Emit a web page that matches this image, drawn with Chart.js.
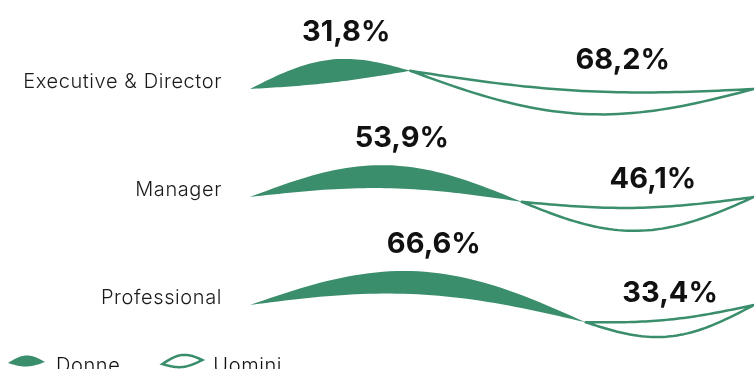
<!DOCTYPE html>
<html lang="it">
<head>
<meta charset="utf-8">
<title>Donne e uomini per ruolo</title>
<script src="https://cdn.jsdelivr.net/npm/chart.js@4.4.1/dist/chart.umd.min.js"></script>
<style>
	html, body { margin: 0; padding: 0; background: #fff; overflow: hidden; }
	.chart-wrap { width: 754px; height: 369px; position: relative; }
</style>
</head>
<body>
<div class="chart-wrap"><canvas class="js-ruoli"></canvas></div>
<script>
const ruoli = ['Executive & Director', 'Manager', 'Professional'];
const donne = [31.8, 53.9, 66.6];
const uomini = [68.2, 46.1, 33.4];
const serie = ['Donne', 'Uomini'];

const verde = '#3a8e6b';
const nero = '#111111';
const fontFamily = 'Inter, "Open Sans", sans-serif';

// the rows follow a soft wave across the whole width
const onda = function (t) {
	return -20 * Math.sin(2 * Math.PI * t);
};

// leaf between two tips, each edge bulging by dTop / dBot
const leafPath = function (ctx, f) {
	const steps = 48;
	ctx.beginPath();
	for (let i = 0; i <= steps; i++) {
		const t = i / steps;
		const x = f.xa + (f.xb - f.xa) * t;
		const y = f.ya + (f.yb - f.ya) * t + f.dTop * Math.sin(Math.PI * t);
		if (i === 0) ctx.moveTo(x, y);
		else ctx.lineTo(x, y);
	}
	for (let i = steps; i >= 0; i--) {
		const t = i / steps;
		const x = f.xa + (f.xb - f.xa) * t;
		const y = f.ya + (f.yb - f.ya) * t + f.dBot * Math.sin(Math.PI * t);
		ctx.lineTo(x, y);
	}
	ctx.closePath();
};

const foglia = function (chart, el, dsIndex) {
	const area = chart.chartArea;
	const yRiga = el.y + 7;
	const xa = el.base;
	const xb = el.x;
	const ya = yRiga + onda((xa - area.left) / area.width);
	const yb = yRiga + onda((xb - area.left) / area.width);
	const len = Math.abs(xb - xa);
	let dTop, dBot;
	if (dsIndex === 0) {
		dTop = -0.126 * len;
		dBot = dTop + 23;
	} else {
		dBot = Math.min(34, 0.135 * len);
		dTop = dBot - Math.min(23, 0.1 * len);
	}
	return { xa, ya, xb, yb, dTop, dBot, len };
};

const formatta = function (v) {
	return v.toFixed(1).replace('.', ',') + '%';
};

const fogliePlugin = {
	id: 'foglie',
	beforeDraw(chart) {
		chart.ctx.letterSpacing = '0.6px';
	},
	beforeDatasetDraw(chart, args) {
		const ctx = chart.ctx;
		ctx.save();
		args.meta.data.forEach((el) => {
			const f = foglia(chart, el, args.index);
			leafPath(ctx, f);
			if (args.index === 0) {
				ctx.fillStyle = verde;
				ctx.fill();
			} else {
				ctx.strokeStyle = verde;
				ctx.lineWidth = 2.5;
				ctx.lineJoin = 'round';
				ctx.stroke();
			}
		});
		ctx.restore();
		return false;
	},
	afterDatasetsDraw(chart) {
		const ctx = chart.ctx;
		ctx.save();
		ctx.letterSpacing = '0px';
		ctx.font = `700 29px ${fontFamily}`;
		ctx.fillStyle = nero;
		ctx.textAlign = 'center';
		ctx.textBaseline = 'middle';
		chart.data.datasets.forEach((ds, i) => {
			chart.getDatasetMeta(i).data.forEach((el, j) => {
				const f = foglia(chart, el, i);
				let x, y;
				if (i === 0) {
					let apice = Infinity;
					for (let k = 0; k <= 40; k++) {
						const t = k / 40;
						apice = Math.min(apice, f.ya + (f.yb - f.ya) * t + f.dTop * Math.sin(Math.PI * t));
					}
					x = (f.xa + f.xb) / 2 + 16;
					y = apice - 27;
				} else {
					x = (f.xa + f.xb) / 2 + (f.len - 167) * 0.23;
					y = (f.ya + f.yb) / 2 - 20;
				}
				ctx.fillText(formatta(ds.data[j]), x, y);
			});
		});
		ctx.restore();
	},
	afterDraw(chart) {
		// legend along the bottom edge
		const ctx = chart.ctx;
		ctx.save();
		ctx.font = `300 20px ${fontFamily}`;
		ctx.textBaseline = 'middle';
		const yc = 363;
		let x = 8;
		serie.forEach((nome, i) => {
			const f = i === 0
				? { xa: x, ya: yc, xb: x + 37, yb: yc - 1, dTop: -7, dBot: 4 }
				: { xa: x, ya: yc + 1, xb: x + 40, yb: yc - 3, dTop: -7, dBot: 5 };
			leafPath(ctx, f);
			if (i === 0) {
				ctx.fillStyle = verde;
				ctx.fill();
			} else {
				ctx.strokeStyle = verde;
				ctx.lineWidth = 2.5;
				ctx.stroke();
			}
			const xt = f.xb + 11;
			ctx.fillStyle = nero;
			ctx.fillText(nome, xt, yc + 3);
			x = xt + ctx.measureText(nome).width + 42;
		});
		ctx.restore();
	},
};

const config = {
	type: 'bar',
	data: {
		labels: ruoli,
		datasets: [
			{ label: serie[0], data: donne, backgroundColor: verde },
			{ label: serie[1], data: uomini, backgroundColor: 'transparent', borderColor: verde },
		],
	},
	options: {
		indexAxis: 'y',
		responsive: true,
		maintainAspectRatio: false,
		animation: false,
		layout: { padding: { top: 28, bottom: 17, left: 0, right: 0 } },
		scales: {
			x: { stacked: true, min: 0, max: 100, display: false },
			y: {
				stacked: true,
				grid: { display: false, drawTicks: false },
				border: { display: false },
				ticks: {
					padding: 28,
					color: '#1a1a1a',
					font: { family: fontFamily, size: 20, weight: 300 },
				},
				afterFit(scale) {
					// fixed gutter for the role names, no extra room above/below
					scale.width = 250;
					scale.paddingTop = 0;
					scale.paddingBottom = 0;
				},
			},
		},
		plugins: {
			legend: { display: false },
			tooltip: { enabled: false },
		},
	},
	plugins: [fogliePlugin],
};

const init = function () {
	const ctx = document.querySelector('.js-ruoli');
	new Chart(ctx, config);
};
document.addEventListener('DOMContentLoaded', init);
</script>
</body>
</html>
